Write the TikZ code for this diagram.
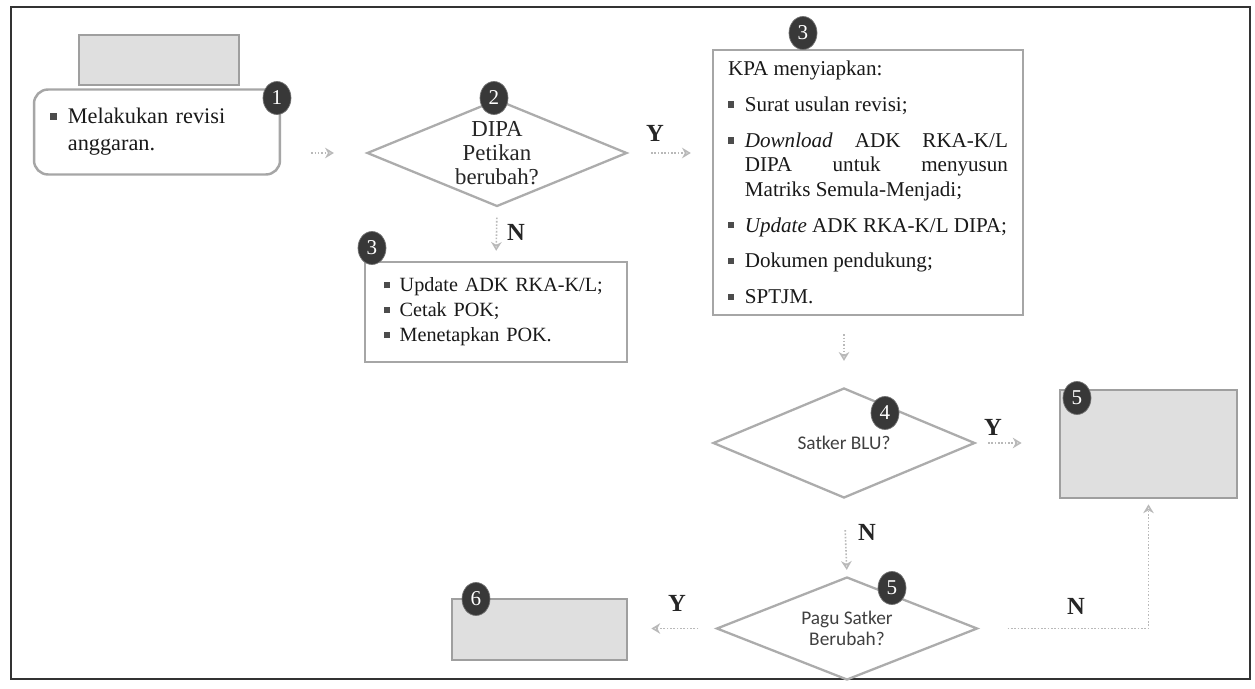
\documentclass[tikz,border=0pt]{standalone}
\usepackage{fontspec}
\setmainfont{Liberation Serif}
\newfontfamily\diafont{Carlito}[Ligatures=NoCommon]
\usetikzlibrary{shapes.geometric,arrows.meta}

\newcommand{\sq}{\textcolor{black!70}{\rule[0.18em]{0.3em}{0.3em}}}
\newcommand{\itm}[1]{\hangindent=0.8em\hangafter=1\noindent\makebox[0.8em][l]{\sq}#1\par}

\tikzset{
  box/.style={draw=gray!70, line width=1.4pt, fill=white, inner sep=0pt, text=black!90},
  greybox/.style={draw=gray!75, line width=1.6pt, fill=gray!25},
  cond/.style={diamond, draw=gray!65, line width=1.3pt, inner sep=0pt, aspect=2.5, align=center, text=black!75},
  badge/.style={ellipse, fill=black!78, draw=black!55, text=white, inner sep=0pt, minimum width=0.56cm, minimum height=0.66cm, font=\fontsize{12}{12}\selectfont},
  yn/.style={font=\bfseries\fontsize{14}{14}\selectfont, text=black!85},
  flow/.style={gray!55, densely dotted, line width=0.9pt, -{Stealth[open,length=5pt,width=6pt]}},
}

\begin{document}
\begin{tikzpicture}[x=0.02cm, y=-0.02cm]
\fill[white] (0,0) rectangle (1255,689);
\useasboundingbox (0,0) rectangle (1255,689);
\draw[black!80, line width=1.1pt] (11,7) rectangle (1250,679);

\node[greybox, minimum width=3.2cm, minimum height=1.0cm] (unit) at (159,60) {};
\node[box, rounded corners=8pt, minimum width=4.92cm, minimum height=1.7cm, text width=4.28cm, align=left,
  font=\fontsize{12.7}{15.3}\selectfont] (revisi) at (157,132)
  {\itm{Melakukan revisi anggaran.}};

\node[cond, minimum width=5.2cm, minimum height=2.14cm, text=black!85, font=\fontsize{13}{13.6}\selectfont] (dipa) at (497,153)
  {DIPA\\Petikan\\berubah?};

\node[box, minimum width=5.24cm, minimum height=2.0cm, text width=4.5cm, align=left,
  font=\fontsize{11.5}{14.2}\selectfont] (pok) at (496,312)
  {\itm{Update ADK RKA-K/L;}\itm{Cetak POK;}\itm{Menetapkan POK.}};

\node[box, minimum width=6.2cm, minimum height=5.3cm, text width=5.6cm, align=justify,
  font=\fontsize{12}{13.9}\selectfont] (kpa) at (868,182.5)
  {\setlength{\parskip}{6.5pt}\noindent KPA menyiapkan:\par
   \itm{Surat usulan revisi;}
   \itm{\textit{Download} ADK RKA-K/L\linebreak DIPA untuk menyusun\linebreak Matriks Semula-Menjadi;}
   \itm{\textit{Update} ADK RKA-K/L DIPA;}
   \itm{Dokumen pendukung;}
   \itm{SPTJM.}};

\node[cond, minimum width=5.24cm, minimum height=2.2cm, font=\diafont\fontsize{11}{12}\selectfont] (blu) at (844,443)
  {Satker BLU?};
\node[greybox, minimum width=3.54cm, minimum height=2.16cm] (blubox) at (1148.5,444) {};

\node[cond, minimum width=5.22cm, minimum height=2.06cm, font=\diafont\fontsize{11}{11.6}\selectfont] (pagu) at (847,628.5)
  {Pagu Satker\\Berubah?};
\node[greybox, minimum width=3.5cm, minimum height=1.22cm] (proses) at (539.5,629.5) {};

\node[badge] (b1) at (277,98) {1};
\node[badge] (b2) at (494,98) {2};
\node[badge] (b3) at (372,248) {3};
\node[badge] (b3k) at (803,33) {3};
\node[badge] (b4) at (885,413) {4};
\node[badge] (b5) at (1077,398) {5};
\node[badge] (b5p) at (892,588) {5};
\node[badge] (b6) at (476,599) {6};

\draw[flow, shorten <=0.6cm, shorten >=0.64cm] (revisi.east |- dipa) -- (dipa.west);
\draw[flow, shorten <=0.46cm, shorten >=0.42cm] (dipa.east) -- (kpa.west |- dipa);
\draw[flow, shorten <=0.2cm, shorten >=0.2cm] (dipa.south) -- (pok.north);
\draw[flow, shorten <=0.36cm, shorten >=0.52cm] (kpa.south -| blu.north) -- (blu.north);
\draw[flow, shorten <=0.24cm, shorten >=0.74cm] (blu.east) -- (blubox.west |- blu);
\draw[flow, shorten <=0.62cm, shorten >=0.12cm] (blu.south) -- (pagu.north);
\draw[flow, shorten <=0.34cm, shorten >=0.46cm] (pagu.west) -- (proses.east |- pagu);
\draw[flow, shorten <=0.58cm, shorten >=0.1cm] (pagu.east) -| (blubox.south);

\node[yn] (y1) at (655,133) {Y};
\node[yn] (n1) at (516,232) {N};
\node[yn] (y2) at (993,427) {Y};
\node[yn] (n2) at (867,532) {N};
\node[yn] (y3) at (677,603) {Y};
\node[yn] (n3) at (1076,606) {N};
\end{tikzpicture}
\end{document}
